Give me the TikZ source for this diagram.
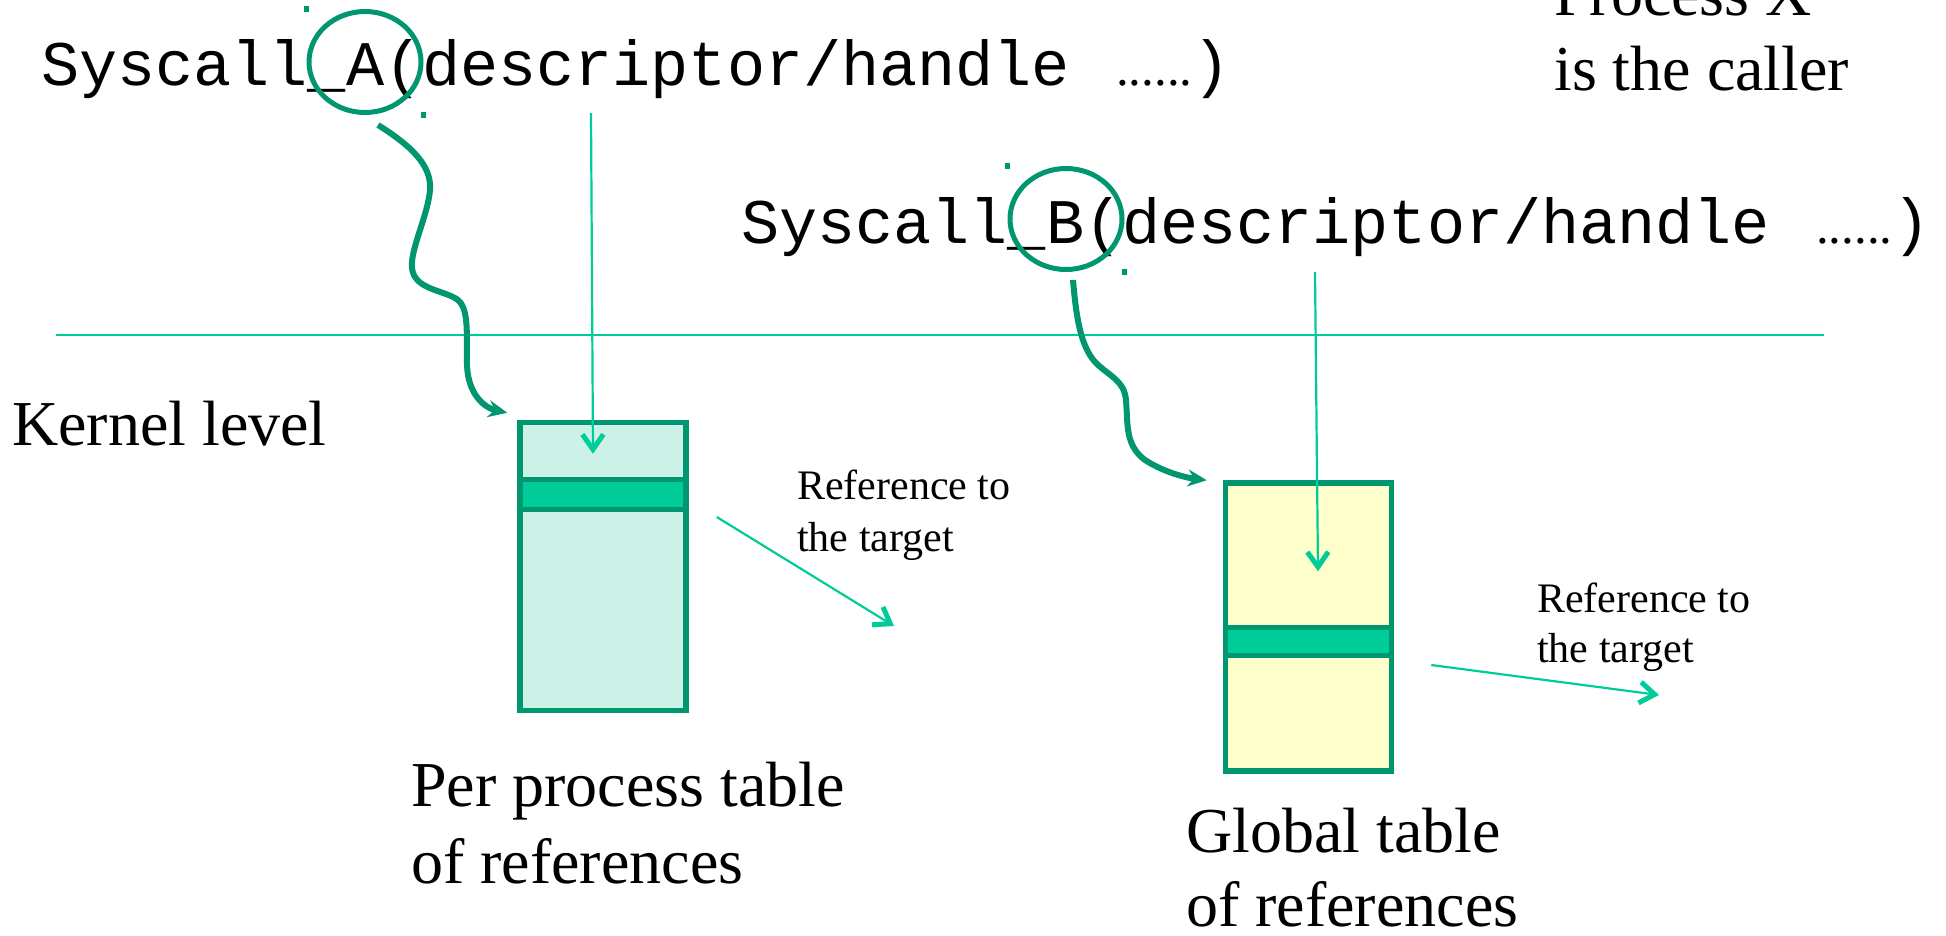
\documentclass[tikz,border=0pt]{standalone}
\usepackage{fontspec}
\setmainfont{Liberation Serif}
\setmonofont{Liberation Mono}
\usetikzlibrary{
    positioning,
    arrows.meta,
    shapes.geometric,
    calc
}
\definecolor{TealDark}{RGB}{0,150,112}
\definecolor{TealLight}{RGB}{0,204,153}
\definecolor{TableFill}{RGB}{204,242,232}
\definecolor{GlobalFill}{RGB}{255,255,204}

\begin{document}
\begin{tikzpicture}[
                    x=1pt, y=-1pt,
                    every node/.style={inner sep=0pt},
                    code/.style={font=\fontsize{63.5}{70}\selectfont\ttfamily, anchor=base west},
                    bigtext/.style={font=\fontsize{64}{76}\selectfont, anchor=base west, align=left},
                    smalltext/.style={font=\fontsize{42}{51}\selectfont, anchor=base west, align=left},
                    ring/.style={ellipse, draw=TealDark, line width=5pt, minimum width=112pt, minimum height=101pt},
                    selmark/.style={fill=TealDark, minimum size=5.5pt},
                    tablebox/.style={draw=TealDark, line width=5.5pt, minimum width=166pt, minimum height=288pt},
                    slot/.style={draw=TealDark, fill=TealLight, line width=5.5pt, minimum width=166pt},
                    callarrow/.style={TealDark, line width=6pt, -{Stealth[length=19pt, width=17pt]}},
                    refline/.style={TealLight, line width=2.2pt, -{Straight Barb[length=15pt, width=21pt, line width'=5pt]}},
                ]
                  \useasboundingbox (0,0) rectangle (1946,935);

                  % ---- User level (top section) ----
                  \node[code] (callA) at (41,85) {Syscall\_A(descriptor/handle {\rmfamily\fontsize{51}{51}\selectfont\hspace{8pt}......})};
                  \node[code] (callB) at (741,243) {Syscall\_B(descriptor/handle {\rmfamily\fontsize{51}{51}\selectfont\hspace{8pt}......})};
                  % multi-line nodes: base = last line
                  \node[bigtext, font=\fontsize{64}{75}\selectfont] (caller) at (1554,90) {Process X\\is the caller};

                  % circled letters with their selection marks
                  \node[ring] (ringA) at (365,62) {};
                  \node[selmark] (markA1) at (ringA.west |- ringA.north) {};
                  \node[selmark] (markA2) at (ringA.east |- ringA.south) {};
                  \node[ring] (ringB) at (1066,219) {};
                  \node[selmark] (markB1) at (ringB.west |- ringB.north) {};
                  \node[selmark] (markB2) at (ringB.east |- ringB.south) {};

                  % Kernel boundary
                  \draw[TealLight, line width=2.2pt] (56,335) -- (1824,335);
                  \node[bigtext] (kernel) at (12,445) {Kernel level};

                  % ---- Per process table ----
                  \node[tablebox, fill=TableFill] (perproc) at (603,566.5) {};
                  \node[slot, minimum height=30pt] (slotA) at (603,494.5) {};
                  \node[bigtext, font=\fontsize{64}{77}\selectfont] (perprocLbl) at (411,883) {Per process table\\of references};
                  \node[smalltext, font=\fontsize{42}{52}\selectfont] (refA) at (797,551) {Reference to\\the target};

                  % ---- Global table ----
                  \node[tablebox, fill=GlobalFill] (global) at (1308.5,627) {};
                  \node[slot, minimum height=28pt] (slotB) at (1308.5,641.5) {};
                  \node[bigtext, font=\fontsize{64}{74}\selectfont] (globalLbl) at (1186,926) {Global table\\of references};
                  \node[smalltext, font=\fontsize{42}{50}\selectfont] (refB) at (1537,662) {Reference to\\the target};

                  % descriptors into the tables
                  \coordinate (hA) at (591,113);
                  \coordinate (hB) at (1315,272);
                  \draw[refline] (hA) -- ($(perproc.north)+(-10,34)$);
                  \draw[refline] (hB) -- ($(global.north)+(9.5,91)$);

                  % calls entering the kernel
                  \draw[callarrow] ($(ringA.south)+(13,10)$)
                      .. controls (410,145) and (432,165) .. (430,190)
                      .. controls (428,215) and (410,250) .. (412,268)
                      .. controls (414,290) and (445,290) .. (458,300)
                      .. controls (470,310) and (466,340) .. (467,365)
                      .. controls (468,395) and (485,408) .. ($(perproc.north west)+(-10,-7)$);
                  \draw[callarrow] ($(ringB.south)+(7,8)$)
                      .. controls (1076,315) and (1080,345) .. (1095,362)
                      .. controls (1110,377) and (1124,380) .. (1126,400)
                      .. controls (1128,425) and (1125,445) .. (1145,460)
                      .. controls (1165,473) and (1188,478) .. ($(global.north west)+(-16,0)$);

                  % references out of the slots
                  \coordinate (outA) at (894,626);
                  \coordinate (outB) at (1659,695);
                  \draw[refline] ($(perproc.east)+(28,-49.5)$) -- (outA);
                  \draw[refline] ($(global.east)+(37,38)$) -- (outB);
                \end{tikzpicture}
\end{document}
